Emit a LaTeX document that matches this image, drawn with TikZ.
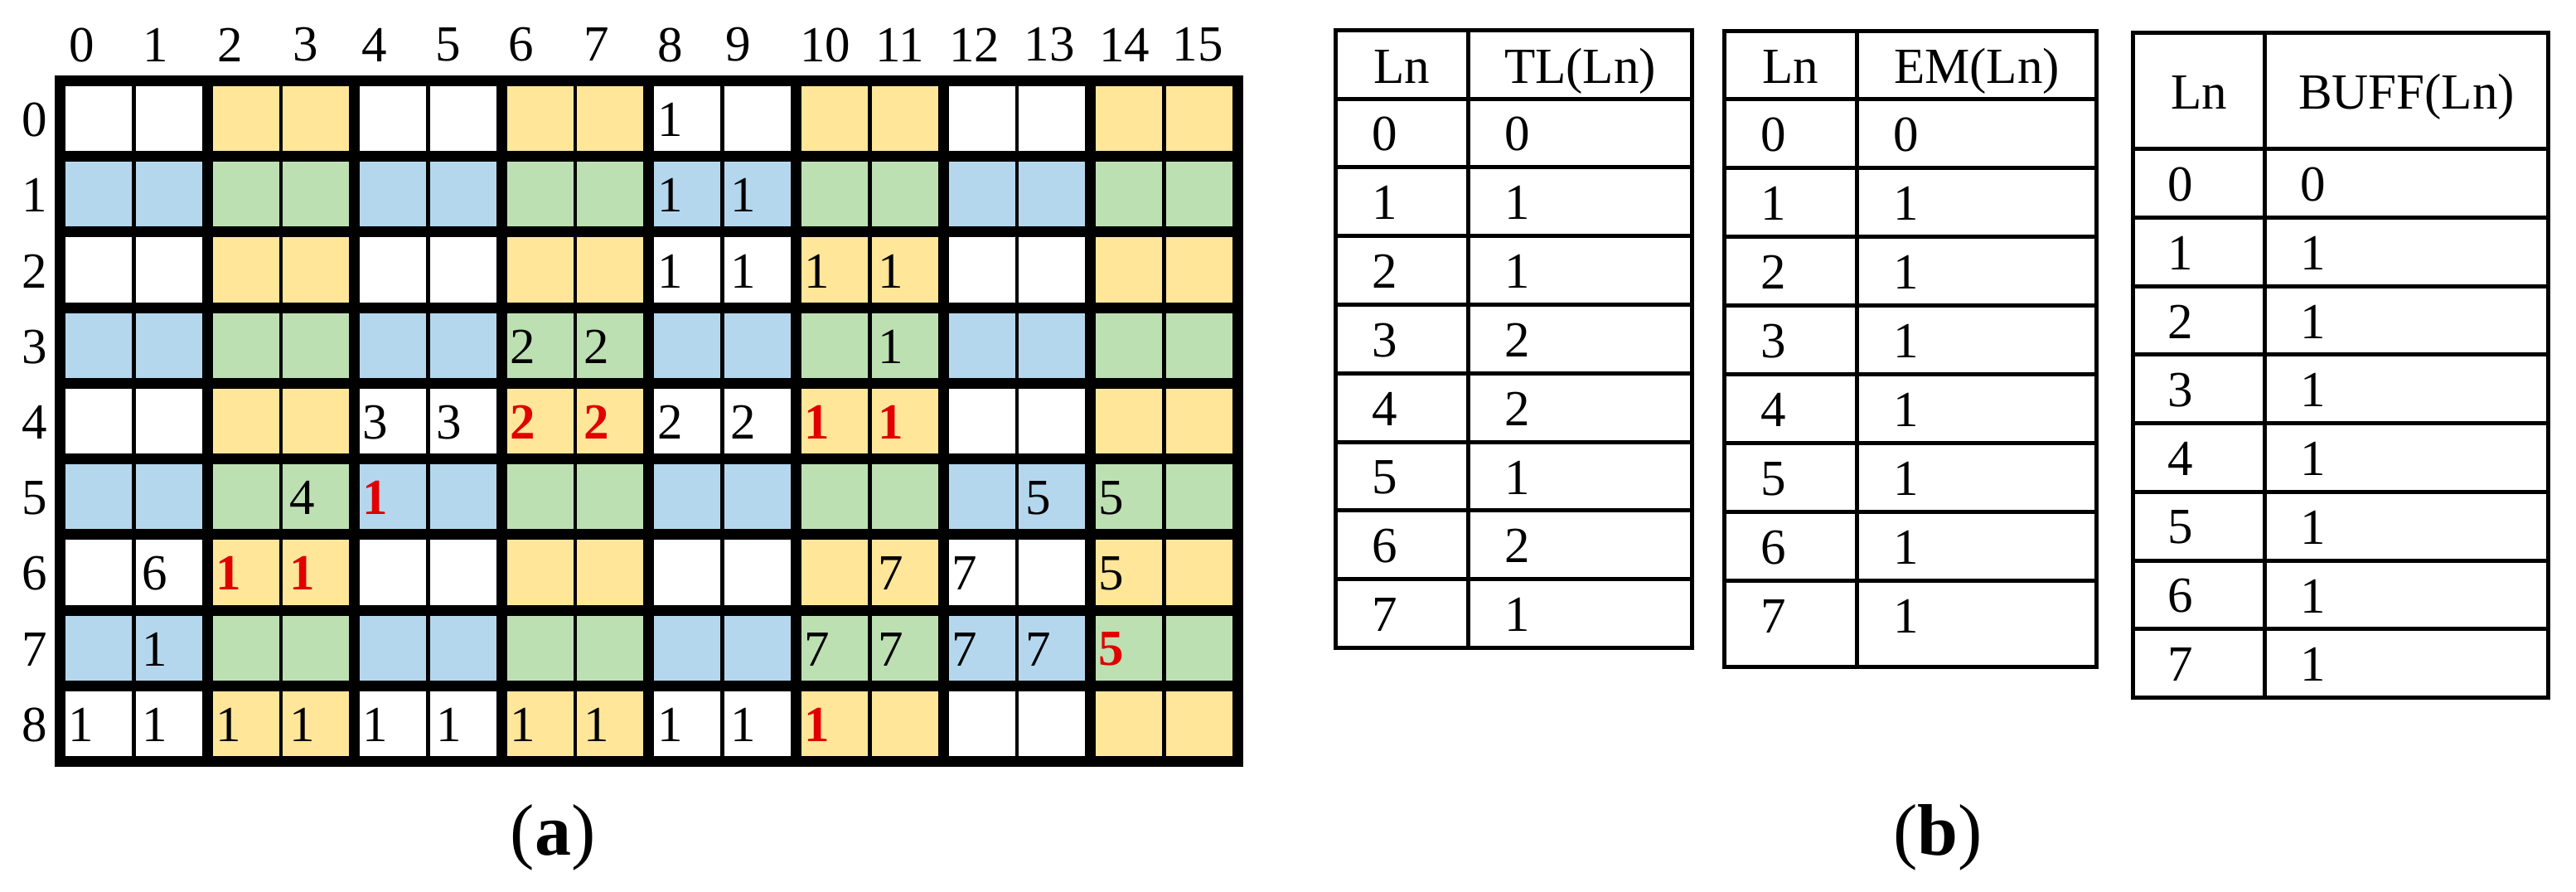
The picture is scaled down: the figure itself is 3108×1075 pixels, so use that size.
\documentclass[tikz,border=0pt]{standalone}
\usepackage{fontspec}
\setmainfont{Liberation Serif}
\definecolor{cf00}{HTML}{FFFFFF}
\definecolor{cf10}{HTML}{FFE699}
\definecolor{cf01}{HTML}{B4D7EE}
\definecolor{cf11}{HTML}{BDE0B3}
\definecolor{cred}{HTML}{E00000}
\begin{document}
\begin{tikzpicture}[x=0.25pt,y=-0.25pt,
  numtxt/.style={font=\fontsize{15.25}{18}\selectfont, inner sep=0pt, anchor=center},
  rednum/.style={font=\fontsize{15.25}{18}\selectfont\bfseries, text=cred, inner sep=0pt, anchor=center},
  hdr/.style={font=\fontsize{15.25}{18}\selectfont, inner sep=0pt, anchor=base},
  capt/.style={font=\fontsize{22}{26}\selectfont, inner sep=0pt, anchor=base},
  thickline/.style={line width=3.25pt},
  thinline/.style={line width=1.15pt},
  tabline/.style={line width=1.25pt},
]
\useasboundingbox (0,0) rectangle (3108,1075);
% ---------- grid cells
\foreach \r in {0,...,8}{
  \foreach \c in {0,...,15}{
    \pgfmathtruncatemacro\p{mod(floor(\c/2),2)}
    \pgfmathtruncatemacro\q{mod(\r,2)}
    \fill[fill=cf\p\q] ({72.5+88.8*\c},{97.3+91.24*\r}) rectangle ({72.5+88.8*(\c+1)},{97.3+91.24*(\r+1)});
  }
}
% ---------- grid lines
\foreach \c in {1,3,...,15}
  \draw[thinline] ({72.5+88.8*\c},97.3) -- ({72.5+88.8*\c},918.46);
\foreach \c in {2,4,...,14}
  \draw[thickline] ({72.5+88.8*\c},97.3) -- ({72.5+88.8*\c},918.46);
\foreach \r in {1,...,8}
  \draw[thickline] (72.5,{97.3+91.24*\r}) -- (1493.3,{97.3+91.24*\r});
\draw[thickline] (72.5,97.3) rectangle (1493.3,918.46);
% ---------- column and row labels
\foreach \c/\x in {0/98.5,1/188,2/278,3/368.6,4/451.5,5/541,6/629,7/720,8/809,9/891,10/995.5,11/1085.5,12/1175.5,13/1266,14/1356.5,15/1445}
  \node[numtxt] (col\c) at (\x,54) {\c};
\foreach \r in {0,...,8}
  \node[numtxt] (row\r) at (42,{97.3+91.24*\r+47.1}) {\r};
% ---------- cell numbers
\foreach \r/\c/\t in {0/8/1, 1/8/1, 1/9/1, 2/8/1, 2/9/1, 2/10/1, 2/11/1,
  3/6/2, 3/7/2, 3/11/1, 4/4/3, 4/5/3, 4/8/2, 4/9/2, 5/3/4, 5/13/5, 5/14/5,
  6/1/6, 6/11/7, 6/12/7, 6/14/5, 7/1/1, 7/10/7, 7/11/7, 7/12/7, 7/13/7,
  8/0/1, 8/1/1, 8/2/1, 8/3/1, 8/4/1, 8/5/1, 8/6/1, 8/7/1, 8/8/1, 8/9/1}
  \node[numtxt] (n\r-\c) at ({72.5+88.8*\c+25.5},{97.3+91.24*\r+47.1}) {\t};
\foreach \r/\c/\t in {4/6/2, 4/7/2, 4/10/1, 4/11/1, 5/4/1, 6/2/1, 6/3/1, 7/14/5, 8/10/1}
  \node[rednum] (n\r-\c) at ({72.5+88.8*\c+25.5},{97.3+91.24*\r+47.1}) {\t};
% ---------- table TL
\draw[tabline] (1611.5,36.5) rectangle (2041.5,781.4);
\draw[tabline] (1771.5,36.5) -- (1771.5,781.4);
\foreach \i in {0,...,7}
  \draw[tabline] (1611.5,{119+82.8*\i}) -- (2041.5,{119+82.8*\i});
\node[hdr] (tlh1) at (1691.5,100) {Ln};
\node[hdr] (tlh2) at (1906.5,100) {TL(Ln)};
\foreach \i/\v in {0/0,1/1,2/1,3/2,4/2,5/1,6/2,7/1}{
  \node[numtxt] (tla\i) at (1671,{119+82.8*\i+42.9}) {\i};
  \node[numtxt] (tlb\i) at (1831,{119+82.8*\i+42.9}) {\v};
}
% ---------- table EM
\draw[tabline] (2080.5,37.5) rectangle (2529.5,804);
\draw[tabline] (2240.5,37.5) -- (2240.5,804);
\foreach \i in {0,...,7}
  \draw[tabline] (2080.5,{119.5+83*\i}) -- (2529.5,{119.5+83*\i});
\node[hdr] (emh1) at (2160.5,100) {Ln};
\node[hdr] (emh2) at (2385,100) {EM(Ln)};
\foreach \i/\v in {0/0,1/1,2/1,3/1,4/1,5/1,6/1,7/1}{
  \node[numtxt] (ema\i) at (2140,{119.5+83*\i+43}) {\i};
  \node[numtxt] (emb\i) at (2300,{119.5+83*\i+43}) {\v};
}
% ---------- table BUFF
\draw[tabline] (2573.5,39.5) rectangle (3074.5,841.5);
\draw[tabline] (2732.5,39.5) -- (2732.5,841.5);
\foreach \i in {0,...,7}
  \draw[tabline] (2573.5,{179.5+82.75*\i}) -- (3074.5,{179.5+82.75*\i});
\node[hdr] (bfh1) at (2653,131.7) {Ln};
\node[hdr] (bfh2) at (2903.5,131.7) {BUFF(Ln)};
\foreach \i/\v in {0/0,1/1,2/1,3/1,4/1,5/1,6/1,7/1}{
  \node[numtxt] (bfa\i) at (2631,{179.5+82.75*\i+42.9}) {\i};
  \node[numtxt] (bfb\i) at (2791,{179.5+82.75*\i+42.9}) {\v};
}
% ---------- captions
\node[capt] (capa) at (667,1031) {(\textbf{a})};
\node[capt] (capb) at (2338,1031) {(\textbf{b})};
\end{tikzpicture}
\end{document}
